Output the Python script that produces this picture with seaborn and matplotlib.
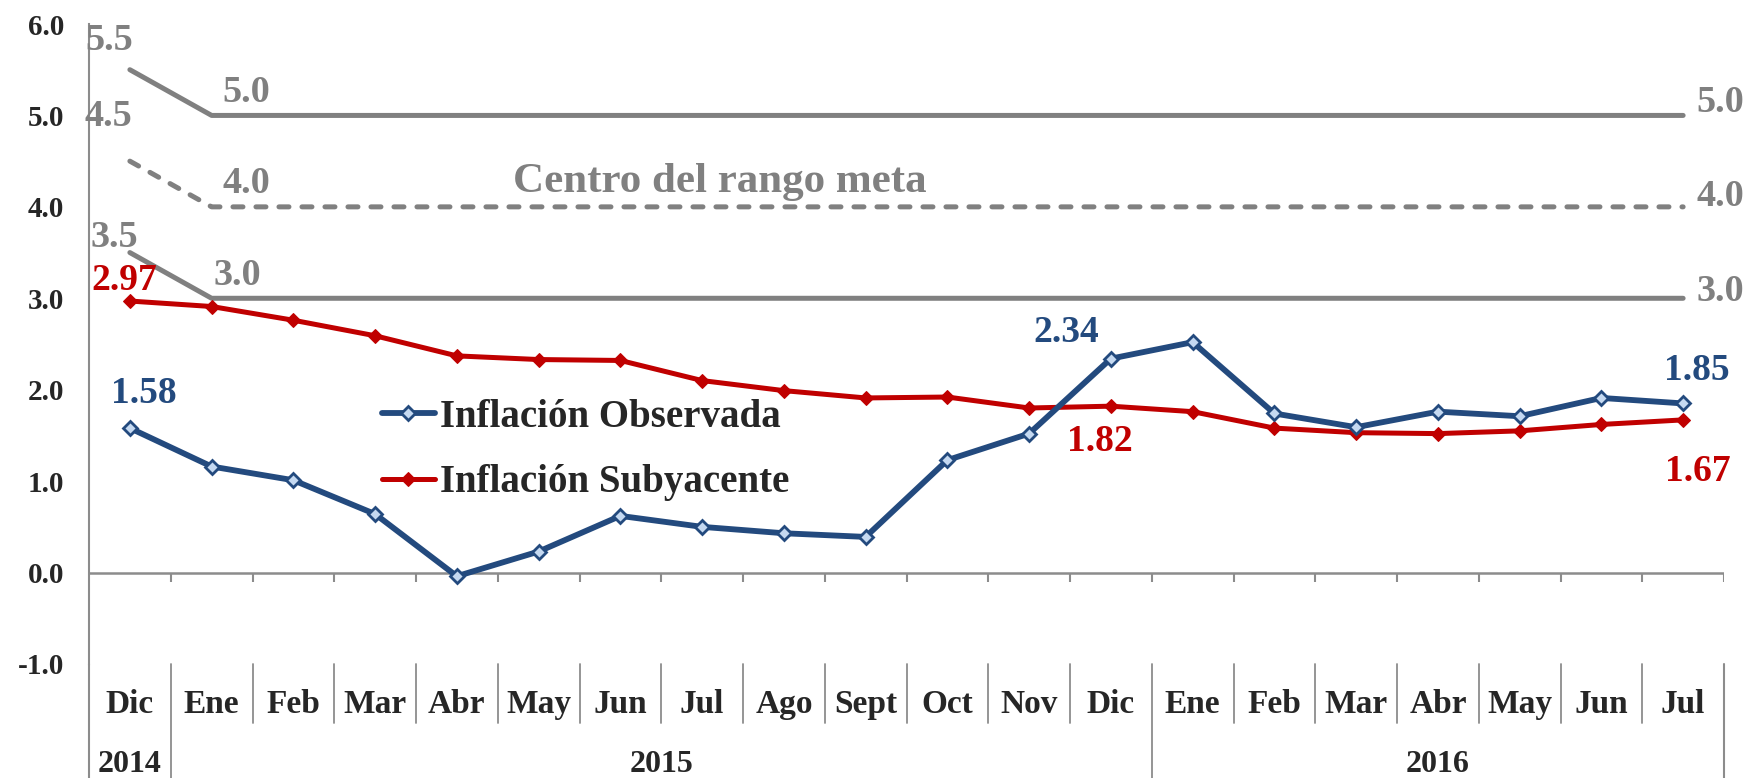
import numpy as np
import pandas as pd
import matplotlib
matplotlib.use("Agg")
import matplotlib.pyplot as plt
import seaborn as sns

months = ["Dic", "Ene", "Feb", "Mar", "Abr", "May", "Jun", "Jul", "Ago", "Sept",
          "Oct", "Nov", "Dic", "Ene", "Feb", "Mar", "Abr", "May", "Jun", "Jul"]
years = ["2014", "2015", "2016"]
observada = [1.58, 1.16, 1.01, 0.64, -0.04, 0.23, 0.62, 0.50, 0.43, 0.39,
             1.23, 1.52, 2.34, 2.52, 1.74, 1.59, 1.76, 1.71, 1.91, 1.85]
subyacente = [2.97, 2.91, 2.76, 2.59, 2.37, 2.33, 2.32, 2.10, 1.99, 1.91,
              1.92, 1.80, 1.82, 1.76, 1.58, 1.53, 1.52, 1.55, 1.62, 1.67]
rango_sup = [5.5] + [5.0] * 19
rango_centro = [4.5] + [4.0] * 19
rango_inf = [3.5] + [3.0] * 19
yticks = [-1.0, 0.0, 1.0, 2.0, 3.0, 4.0, 5.0, 6.0]

BLUE = "#234A7E"
BLUE_FILL = "#C5D9F1"
RED = "#C00000"
GRAY = "#808080"
AXGRAY = "#8C8C8C"

sns.set_style("white")
plt.rcParams["font.family"] = ["Liberation Serif", "DejaVu Serif"]
plt.rcParams["font.weight"] = "bold"

df = pd.DataFrame({
    "idx": np.arange(len(months)),
    "obs": observada, "sub": subyacente,
    "sup": rango_sup, "cen": rango_centro, "inf": rango_inf,
})

fig = plt.figure(figsize=(17.5, 7.78), dpi=100)
ax = fig.add_axes([89 / 1750, 1 - 664 / 778, (1724 - 89) / 1750, (664 - 24) / 778])

sns.lineplot(data=df, x="idx", y="sup", ax=ax, color=GRAY, linewidth=3.6,
             solid_capstyle="round")
sns.lineplot(data=df, x="idx", y="cen", ax=ax, color=GRAY, linewidth=3.6,
             dashes=False, linestyle=(0, (2.0, 2.6)), dash_capstyle="round")
sns.lineplot(data=df, x="idx", y="inf", ax=ax, color=GRAY, linewidth=3.6,
             solid_capstyle="round")
sns.lineplot(data=df, x="idx", y="sub", ax=ax, color=RED, linewidth=3.6,
             marker="D", markersize=7, markerfacecolor=RED, markeredgecolor=RED,
             label="Inflación Subyacente")
sns.lineplot(data=df, x="idx", y="obs", ax=ax, color=BLUE, linewidth=4.2,
             marker="D", markersize=7.5, markerfacecolor=BLUE_FILL,
             markeredgecolor=BLUE, markeredgewidth=2.0,
             label="Inflación Observada")

ax.set_xlim(-0.5, len(months) - 0.5)
ax.set_ylim(-1, 6)
ax.set_xlabel("")
ax.set_ylabel("")
ax.set_xticks([])
ax.set_yticks(yticks)
ax.set_yticklabels([f"{v:.1f}" for v in yticks], fontsize=21, fontweight="bold")
ax.tick_params(axis="y", direction="out", length=6, width=1.5, color=AXGRAY, pad=12)
for s in ["top", "right", "bottom"]:
    ax.spines[s].set_visible(False)
ax.spines["left"].set_color(AXGRAY)
ax.spines["left"].set_linewidth(1.5)

# zero line and category ticks
ax.axhline(0, color=AXGRAY, linewidth=1.8, zorder=1)
bounds = np.arange(0.5, len(months), 1.0)
ax.vlines(bounds, -0.1, 0, color=AXGRAY, linewidth=1.5, zorder=1)

# category label area
n = len(months)
bot = -2.26
for b in bounds[:-1]:
    if b in (0.5, 12.5):
        ax.plot([b, b], [-1, bot], color=AXGRAY, lw=1.3, clip_on=False)
    else:
        ax.plot([b, b], [-1, -1.65], color=AXGRAY, lw=1.3, clip_on=False)
ax.plot([-0.5, -0.5], [-1, bot], color=AXGRAY, lw=1.5, clip_on=False)
ax.plot([n - 0.5, n - 0.5], [-1, bot], color=AXGRAY, lw=1.5, clip_on=False)
for i, m in enumerate(months):
    ax.text(i, -1.54, m, ha="center", va="baseline", fontsize=24, fontweight="bold",
            clip_on=False)
year_pos = [0, 6.5, 16]
for yp, yl in zip(year_pos, years):
    ax.text(yp, -2.18, yl, ha="center", va="baseline", fontsize=23, fontweight="bold",
            clip_on=False)

# range labels
gk = dict(color=GRAY, fontsize=27.5, fontweight="bold", va="baseline")
ax.text(-0.55, 5.72, "5.5", ha="left", **gk)
ax.text(-0.55, 4.88, "4.5", ha="left", **gk)
ax.text(-0.48, 3.56, "3.5", ha="left", **gk)
ax.text(1.42, 5.15, "5.0", ha="center", **gk)
ax.text(1.42, 4.15, "4.0", ha="center", **gk)
ax.text(1.31, 3.15, "3.0", ha="center", **gk)
ax.text(19.46, 5.04, "5.0", ha="center", **gk)
ax.text(19.46, 4.01, "4.0", ha="center", **gk)
ax.text(19.46, 2.97, "3.0", ha="center", **gk)
ax.text(7.22, 4.16, "Centro del rango meta", ha="center", color=GRAY,
        fontsize=31, fontweight="bold", va="baseline")

# value labels
vk = dict(fontsize=27, fontweight="bold", ha="center", va="baseline")
ax.text(0.17, 1.85, f"{observada[0]:.2f}", color=BLUE, **vk)
ax.text(11.46, 2.52, f"{observada[12]:.2f}", color=BLUE, **vk)
ax.text(19.17, 2.11, f"{observada[-1]:.2f}", color=BLUE, **vk)
ax.text(-0.07, 3.09, f"{subyacente[0]:.2f}", color=RED, **vk)
ax.text(11.87, 1.33, f"{subyacente[12]:.2f}", color=RED, **vk)
ax.text(19.18, 1.00, f"{subyacente[-1]:.2f}", color=RED, **vk)

handles, labels = ax.get_legend_handles_labels()
order = [labels.index("Inflación Observada"), labels.index("Inflación Subyacente")]
ax.legend([handles[i] for i in order], [labels[i] for i in order],
          loc="upper left", bbox_to_anchor=(0.179, 0.414), frameon=False,
          borderpad=0, borderaxespad=0, handlelength=1.36, handletextpad=0.13,
          labelspacing=0.73, prop={"family": "Liberation Serif", "weight": "bold", "size": 28})

fig.savefig("out.png", dpi=100)
